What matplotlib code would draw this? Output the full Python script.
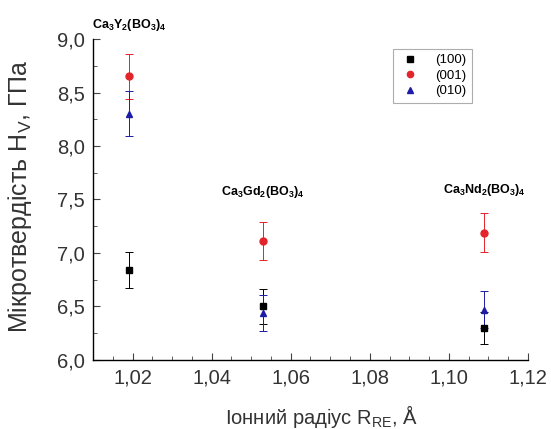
import numpy as np
import matplotlib
matplotlib.use('Agg')
import matplotlib.pyplot as plt
from matplotlib.ticker import MultipleLocator, FuncFormatter
from matplotlib.lines import Line2D

plt.rcParams['font.family'] = ['Liberation Sans', 'DejaVu Sans']
plt.rcParams['mathtext.fontset'] = 'custom'
plt.rcParams['mathtext.rm'] = 'Liberation Sans'
plt.rcParams['mathtext.bf'] = 'Liberation Sans:bold'
plt.rcParams['mathtext.it'] = 'Liberation Sans:italic'

# ionic radius of RE, A
radius = [1.019, 1.053, 1.109]
compounds = [r'$\mathbf{Ca_3Y_2(BO_3)_4}$',
             r'$\mathbf{Ca_3Gd_2(BO_3)_4}$',
             r'$\mathbf{Ca_3Nd_2(BO_3)_4}$']
label_y = [9.13, 7.57, 7.59]

# microhardness, GPa
h100 = [6.84, 6.50, 6.30]
h100_err = [0.17, 0.16, 0.15]
h001 = [8.65, 7.11, 7.19]
h001_err = [0.21, 0.18, 0.18]
h010 = [8.30, 6.44, 6.47]
h010_err = [0.21, 0.17, 0.17]

fig = plt.figure(figsize=(5.51, 4.29), dpi=100)
ax = fig.add_axes([0.169, 0.161, 0.789, 0.748])

series = [(h100, h100_err, 's', 'black', '(100)'),
          (h001, h001_err, 'o', '#e3242b', '(001)'),
          (h010, h010_err, '^', '#1c1ca8', '(010)')]
handles = []
for vals, errs, mk, col, lab in series:
    ax.errorbar(radius, vals, yerr=errs, fmt=mk, color=col, ms=5,
                elinewidth=0.7, capsize=3, capthick=0.7)
    handles.append(Line2D([], [], ls='none', marker=mk, color=col, ms=4.5, label=lab))

for x, y, t in zip(radius, label_y, compounds):
    ax.text(x, y, t, ha='center', va='center', fontsize=9, clip_on=False)

ax.set_xlim(1.01, 1.12)
ax.set_ylim(6.0, 9.0)
ax.xaxis.set_major_locator(MultipleLocator(0.02))
ax.xaxis.set_minor_locator(MultipleLocator(0.005))
ax.yaxis.set_major_locator(MultipleLocator(0.5))
ax.yaxis.set_minor_locator(MultipleLocator(0.25))
ax.xaxis.set_major_formatter(FuncFormatter(lambda v, p: f'{v:.2f}'.replace('.', ',')))
ax.yaxis.set_major_formatter(FuncFormatter(lambda v, p: f'{v:.1f}'.replace('.', ',')))

for s in ['top', 'right']:
    ax.spines[s].set_visible(False)
for s in ['left', 'bottom']:
    ax.spines[s].set_linewidth(1.0)
ax.tick_params(which='both', direction='in', labelsize=14.5, color='#444444',
               labelcolor='#333333')
ax.tick_params(which='major', length=5)
ax.tick_params(which='minor', length=3)
ax.tick_params(axis='x', pad=6)
ax.tick_params(axis='y', pad=6)

ax.set_ylabel(r'Мікротвердість $\mathrm{H_V}$, ГПа', fontsize=18, color='#333333')
ax.yaxis.set_label_coords(-0.135, 0.51)
ax.set_xlabel(r'Іонний радіус $\mathrm{R_{RE}}$, Å', fontsize=14.5, color='#333333')
ax.xaxis.set_label_coords(0.525, -0.135)

leg = ax.legend(handles=handles, loc='upper left', bbox_to_anchor=(0.675, 0.99),
                fontsize=9.5, frameon=True, fancybox=False, edgecolor='#999999',
                handletextpad=1.0, borderpad=0.4, labelspacing=0.25,
                handlelength=1.8)
leg.get_frame().set_linewidth(0.8)

fig.savefig('out.png', dpi=100)
plt.close()
